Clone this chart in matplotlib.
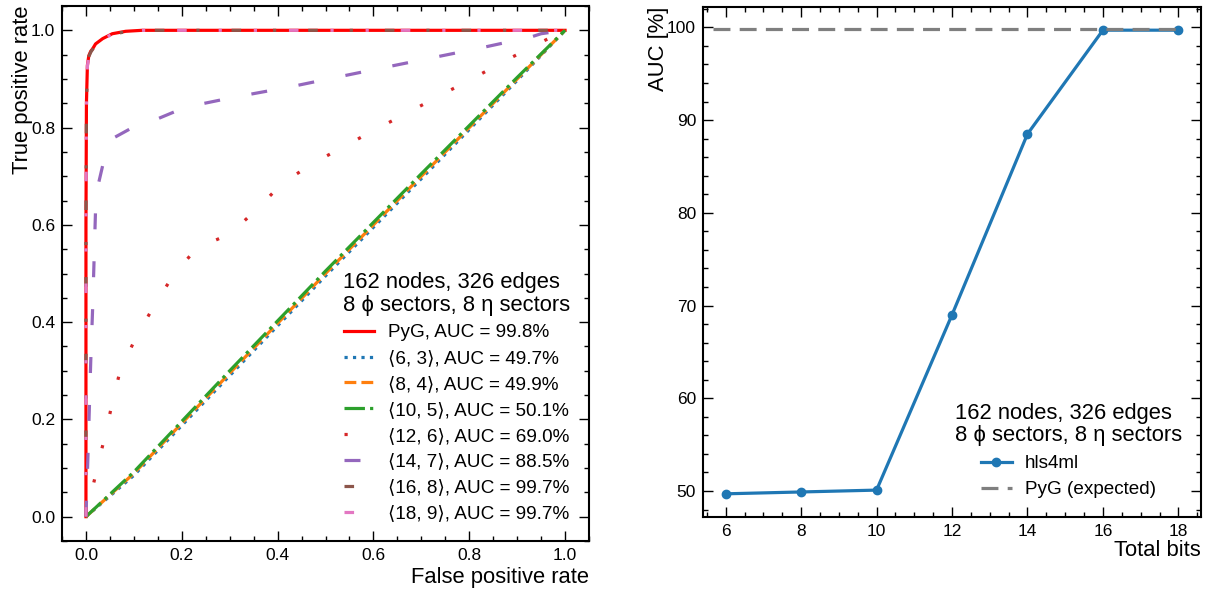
import matplotlib
matplotlib.use('Agg')
import matplotlib.pyplot as plt
from matplotlib.ticker import MultipleLocator

plt.rcParams['font.family'] = ['Liberation Sans', 'DejaVu Sans']

# ---------------- data ----------------
legend_title = "162 nodes, 326 edges\n8 \u03d5 sectors, 8 \u03b7 sectors"

roc_labels = ["PyG, AUC = 99.8%", "\u27e86, 3\u27e9, AUC = 49.7%", "\u27e88, 4\u27e9, AUC = 49.9%",
              "\u27e810, 5\u27e9, AUC = 50.1%", "\u27e812, 6\u27e9, AUC = 69.0%",
              "\u27e814, 7\u27e9, AUC = 88.5%", "\u27e816, 8\u27e9, AUC = 99.7%",
              "\u27e818, 9\u27e9, AUC = 99.7%"]

fpr_pyg = [0, 0, 0.001, 0.003, 0.006, 0.010, 0.014, 0.020, 0.035, 0.055, 0.083, 0.117, 1.0]
tpr_pyg = [0, 0.60, 0.85, 0.928, 0.948, 0.957, 0.962, 0.972, 0.983, 0.993, 0.998, 1.0, 1.0]

fpr_6_3 = [0, 0.1, 0.3, 0.5, 0.7, 0.9, 1.0]
tpr_6_3 = [0, 0.085, 0.290, 0.495, 0.695, 0.897, 1.0]

fpr_8_4 = [0, 0.1, 0.3, 0.5, 0.7, 0.9, 1.0]
tpr_8_4 = [0, 0.089, 0.295, 0.500, 0.700, 0.900, 1.0]

fpr_10_5 = [0, 0.1, 0.3, 0.5, 0.7, 0.9, 1.0]
tpr_10_5 = [0, 0.092, 0.300, 0.505, 0.705, 0.903, 1.0]

fpr_12_6 = [0, 0.018, 0.036, 0.053, 0.071, 0.104, 0.142, 0.182, 0.231, 0.300, 0.357,
            0.410, 0.475, 0.542, 0.610, 0.678, 0.745, 0.813, 0.880, 0.949, 1.0]
tpr_12_6 = [0, 0.077, 0.151, 0.225, 0.299, 0.368, 0.433, 0.496, 0.552, 0.581, 0.632,
            0.686, 0.727, 0.763, 0.799, 0.834, 0.869, 0.904, 0.940, 0.975, 1.0]

fpr_14_7 = [0, 0.004, 0.007, 0.010, 0.014, 0.017, 0.020, 0.025, 0.038, 0.060, 0.097, 0.130,
            0.208, 0.312, 0.423, 0.516, 0.620, 0.720, 0.825, 0.928, 0.950, 1.0]
tpr_14_7 = [0, 0.12, 0.22, 0.32, 0.43, 0.53, 0.63, 0.68, 0.735, 0.78, 0.800, 0.810,
            0.842, 0.863, 0.883, 0.902, 0.923, 0.943, 0.964, 0.986, 0.993, 1.0]

fpr_16_8 = [0, 0, 0.001, 0.003, 0.006, 0.010, 0.014, 0.020, 0.035, 0.055, 0.083, 0.117, 1.0]
tpr_16_8 = [0, 0.60, 0.84, 0.925, 0.946, 0.955, 0.961, 0.971, 0.982, 0.992, 0.997, 1.0, 1.0]

fpr_18_9 = [0, 0, 0.001, 0.003, 0.006, 0.010, 0.014, 0.020, 0.035, 0.055, 0.083, 0.117, 1.0]
tpr_18_9 = [0, 0.60, 0.84, 0.926, 0.947, 0.956, 0.961, 0.971, 0.982, 0.992, 0.997, 1.0, 1.0]

roc_fpr = [fpr_pyg, fpr_6_3, fpr_8_4, fpr_10_5, fpr_12_6, fpr_14_7, fpr_16_8, fpr_18_9]
roc_tpr = [tpr_pyg, tpr_6_3, tpr_8_4, tpr_10_5, tpr_12_6, tpr_14_7, tpr_16_8, tpr_18_9]

total_bits = [6, 8, 10, 12, 14, 16, 18]
auc_hls4ml = [49.7, 49.9, 50.1, 69.0, 88.5, 99.7, 99.7]
auc_pyg = 99.8

# ---------------- styles ----------------
roc_colors = ['red', '#1f77b4', '#ff7f0e', '#2ca02c', '#d62728', '#9467bd', '#8c564b', '#e377c2']
roc_styles = ['-', ':', '--', '-.', (0, (1, 10)), (0, (5, 10)), (0, (3, 10, 1, 10)),
              (0, (3, 10, 1, 10, 1, 10))]
LW = 2.3
TICK_FS = 12.5
LABEL_FS = 15.8
TITLE_FS = 15.8
ENTRY_FS = 13.6

fig = plt.figure(figsize=(12.09, 5.92), dpi=100)
ax1 = fig.add_axes([62 / 1209, 51 / 592, 527 / 1209, 535 / 592])
ax2 = fig.add_axes([703 / 1209, 75 / 592, 498 / 1209, 510 / 592])


def style_axes(ax):
    for s in ax.spines.values():
        s.set_linewidth(1.5)
    ax.tick_params(which='both', direction='in', top=True, right=True, labelsize=TICK_FS,
                   width=1.0)
    ax.tick_params(which='major', length=7.2, pad=5)
    ax.tick_params(which='minor', length=3.6)


legend_kw = dict(loc='lower right', frameon=False, fontsize=ENTRY_FS,
                 title_fontsize=TITLE_FS, handlelength=1.6, handletextpad=0.7,
                 labelspacing=0.455, borderaxespad=0.6)

# ---------------- left: ROC ----------------
for f, t, c, ls, lab in zip(roc_fpr, roc_tpr, roc_colors, roc_styles, roc_labels):
    ax1.plot(f, t, color=c, linestyle=ls, linewidth=LW, label=lab)

ax1.set_xlim(-0.05, 1.05)
ax1.set_ylim(-0.05, 1.05)
ax1.xaxis.set_major_locator(MultipleLocator(0.2))
ax1.xaxis.set_minor_locator(MultipleLocator(0.05))
ax1.yaxis.set_major_locator(MultipleLocator(0.2))
ax1.yaxis.set_minor_locator(MultipleLocator(0.05))
style_axes(ax1)
ax1.set_xlabel("False positive rate", loc='right', fontsize=LABEL_FS, labelpad=3)
ax1.set_ylabel("True positive rate", loc='top', fontsize=LABEL_FS, labelpad=-1.5)
leg1 = ax1.legend(title=legend_title, **legend_kw)
leg1.get_title().set_linespacing(1.1)

# ---------------- right: AUC vs bits ----------------
ax2.plot(total_bits, auc_hls4ml, color='#1f77b4', linewidth=LW, marker='o', markersize=6,
         label='hls4ml')
ax2.axhline(auc_pyg, xmin=0.02, xmax=0.952, color='#7f7f7f', linewidth=LW,
            linestyle=(0, (5.3, 2.9)), label='PyG (expected)')
ax2.xaxis.set_major_locator(MultipleLocator(2))
ax2.xaxis.set_minor_locator(MultipleLocator(0.5))
ax2.yaxis.set_major_locator(MultipleLocator(10))
ax2.yaxis.set_minor_locator(MultipleLocator(2))
style_axes(ax2)
ax2.set_xlabel("Total bits", loc='right', fontsize=LABEL_FS, labelpad=1)
ax2.set_ylabel("AUC [%]", loc='top', fontsize=LABEL_FS, labelpad=-1.5)
leg2 = ax2.legend(title=legend_title, **legend_kw)
leg2.get_title().set_linespacing(1.1)

fig.savefig('out.png', dpi=100)
